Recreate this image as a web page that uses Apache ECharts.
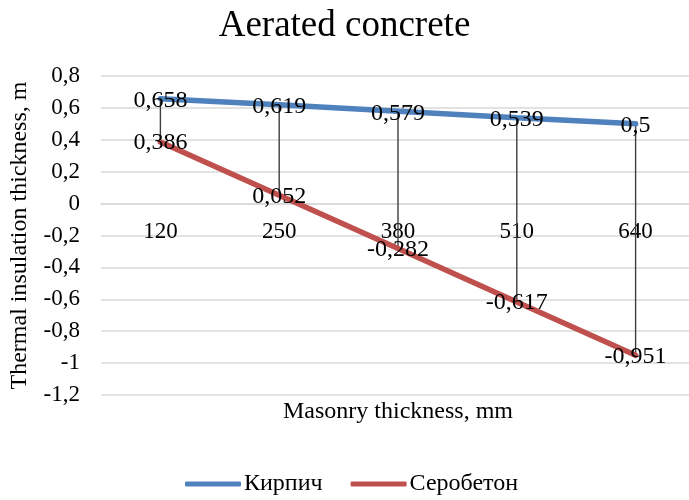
<!DOCTYPE html>
<html><head><meta charset="utf-8">
<script src="https://cdn.jsdelivr.net/npm/echarts@6/dist/echarts.min.js"></script>
<style>html,body{margin:0;padding:0;background:#fff}#c{width:689px;height:500px}</style>
</head><body><div id="c"></div>
<script>
var categories = ['120', '250', '380', '510', '640'];
var brick = [0.658, 0.619, 0.579, 0.539, 0.5];
var serobeton = [0.386, 0.052, -0.282, -0.617, -0.951];
var seriesNames = ['Кирпич', 'Серобетон'];
var titleText = 'Aerated concrete';
var xName = 'Masonry thickness, mm';
var yName = 'Thermal insulation thickness, m';

var FONT = '"Liberation Serif", "Times New Roman", serif';
function fmt(v){ return String(Math.round(v*1000)/1000).replace('.', ','); }

var dropData = categories.map(function(c, i){ return [i, brick[i], serobeton[i]]; });

var GRID_TOP = 76, GRID_H = 319, Y_MIN = -1.2, Y_MAX = 0.8;
var zeroOffset = -(GRID_H * (0 - Y_MIN) / (Y_MAX - Y_MIN));

var chart = echarts.init(document.getElementById('c'));
chart.setOption({
  animation: false,
  textStyle: { fontFamily: FONT },
  title: { text: titleText, left: 'center', top: 3,
    textStyle: { fontFamily: FONT, fontSize: 37, fontWeight: 'normal', color: '#000' } },
  grid: { left: 101, right: -6, top: GRID_TOP, height: GRID_H, containLabel: false, outerBoundsMode: 'none' },
  legend: { top: 467, left: 180, itemWidth: 56, itemHeight: 5, itemGap: 28, icon: 'roundRect',
    textStyle: { fontFamily: FONT, fontSize: 24, color: '#000', padding: [0,0,0,-2] },
    data: seriesNames },
  xAxis: [
    { type: 'category', data: categories, position: 'bottom', offset: zeroOffset,
      axisLine: { show: true, onZero: false, lineStyle: { color: '#d9d9d9', width: 1.5 } },
      axisTick: { show: false },
      axisLabel: { fontFamily: FONT, fontSize: 23, color: '#000', margin: 17 } },
    { type: 'category', data: categories, position: 'bottom',
      name: xName, nameLocation: 'middle', nameGap: 5,
      nameTextStyle: { fontFamily: FONT, fontSize: 24, color: '#000', verticalAlign: 'top' },
      axisLine: { show: false, onZero: false }, axisTick: { show: false }, axisLabel: { show: false },
      splitLine: { show: false } }
  ],
  yAxis: { type: 'value', min: Y_MIN, max: Y_MAX, interval: 0.2,
    name: yName, nameLocation: 'middle', nameGap: 69,
    nameTextStyle: { fontFamily: FONT, fontSize: 24, color: '#000' },
    axisLine: { show: false }, axisTick: { show: false },
    splitLine: { lineStyle: { color: '#d9d9d9', width: 1.5 } },
    axisLabel: { fontFamily: FONT, fontSize: 23, color: '#000', margin: 21, formatter: fmt } },
  series: [
    { type: 'custom', name: 'drop', z: 1, silent: true,
      renderItem: function(params, api){
        var p1 = api.coord([api.value(0), api.value(1)]);
        var p2 = api.coord([api.value(0), api.value(2)]);
        return { type: 'line', shape: { x1: p1[0], y1: p1[1], x2: p2[0], y2: p2[1] },
          style: { stroke: '#3f3f3f', lineWidth: 1.4 } };
      },
      encode: { x: 0, y: [1, 2] },
      data: dropData },
    { type: 'line', name: seriesNames[0], data: brick, z: 3, symbol: 'circle', symbolSize: 0.1, showSymbol: true,
      lineStyle: { color: '#4f81bd', width: 5.5, cap: 'round' }, itemStyle: { color: '#4f81bd' },
      label: { show: true, position: 'inside', fontFamily: FONT, fontSize: 24, color: '#000', offset: [0, 2],
        formatter: function(p){ return fmt(p.value); } } },
    { type: 'line', name: seriesNames[1], data: serobeton, z: 3, symbol: 'circle', symbolSize: 0.1, showSymbol: true,
      lineStyle: { color: '#c0504d', width: 5.5, cap: 'round' }, itemStyle: { color: '#c0504d' },
      label: { show: true, position: 'inside', fontFamily: FONT, fontSize: 24, color: '#000', offset: [0, 1],
        formatter: function(p){ return fmt(p.value); } } }
  ]
});
</script></body></html>
